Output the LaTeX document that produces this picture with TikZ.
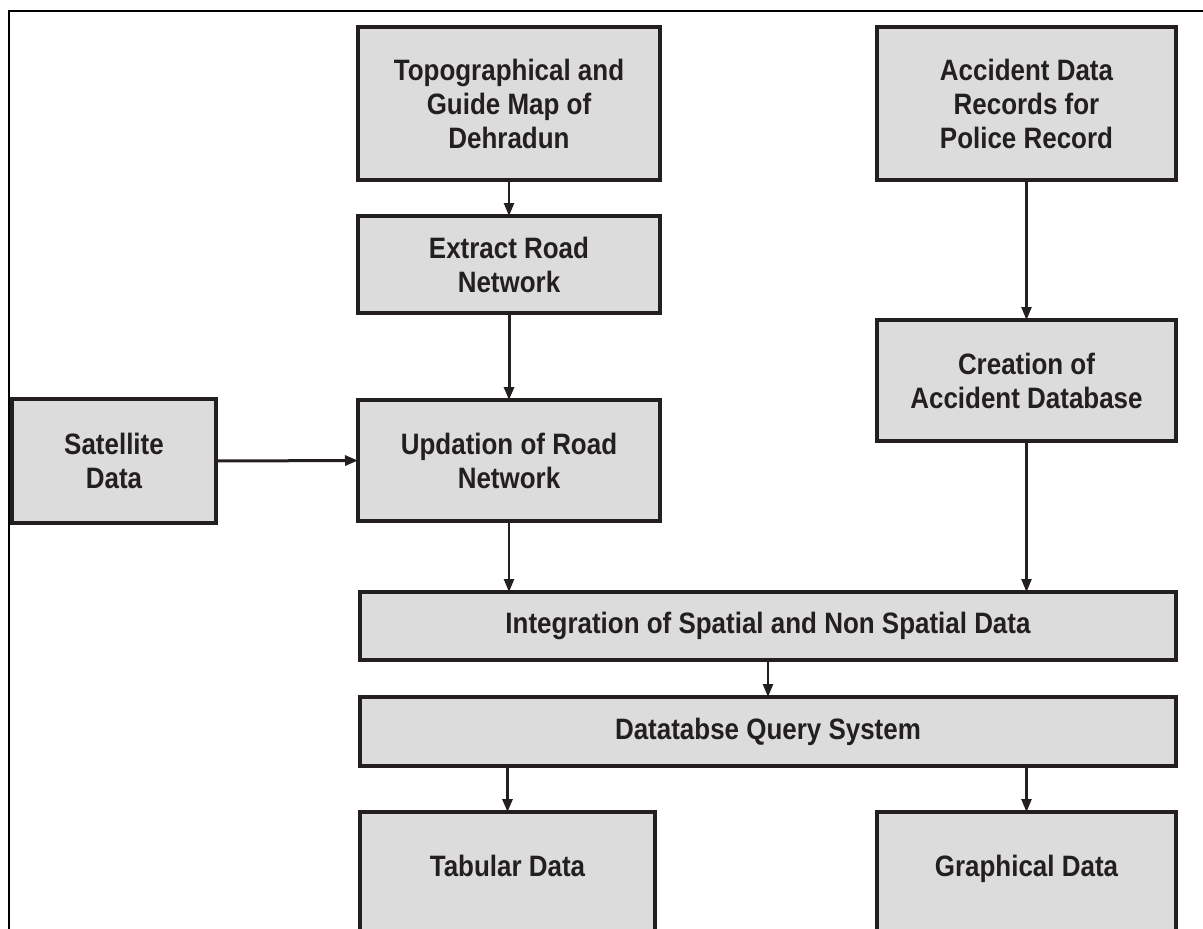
\documentclass[tikz,border=0pt]{standalone}
\usepackage{fontspec}
\newfontfamily\boxfont{Liberation Sans}[FakeStretch=0.88]
\usetikzlibrary{arrows.meta,calc}
\definecolor{ink}{HTML}{231F20}
\definecolor{boxgray}{HTML}{DCDCDD}
\tikzset{
  flowbox/.style={draw=ink, fill=boxgray, line width=3.5pt, align=center,
    inner sep=0pt, outer sep=0pt, text=ink,
    font=\boxfont\bfseries\fontsize{29.5}{34}\selectfont},
  flowarrow/.style={draw=ink, line width=2.4pt,
    -{Triangle[length=13pt,width=10pt]}},
}
\begin{document}
\begin{tikzpicture}[x=1pt,y=-1pt]
\useasboundingbox (0,0) rectangle (1203,929);
\clip (0,0) rectangle (1203,929);
\fill[white] (0,0) rectangle (1203,929);
% frame
\draw[black, line width=2.5pt] (9,960) -- (9,11) -- (1210,11);
% boxes
\node[flowbox, minimum width=302pt, minimum height=153pt] (topo) at (509,103.5)
  {Topographical and\\Guide Map of\\Dehradun};
\node[flowbox, minimum width=299pt, minimum height=153pt] (acc) at (1026.5,103.5)
  {Accident Data\\Records for\\Police Record};
\node[flowbox, minimum width=302pt, minimum height=97pt] (ext) at (509,264.5)
  {Extract Road\\Network};
\node[flowbox, minimum width=299pt, minimum height=121pt] (cre) at (1026.5,380.5)
  {Creation of\\Accident Database};
\node[flowbox, minimum width=204pt, minimum height=124pt] (sat) at (114,461)
  {Satellite\\Data};
\node[flowbox, minimum width=302pt, minimum height=121pt] (upd) at (509,460.5)
  {Updation of Road\\Network};
\node[flowbox, minimum width=816pt, minimum height=68pt] (int) at (768,626)
  {Integration of Spatial and Non Spatial Data};
\node[flowbox, minimum width=816pt, minimum height=69pt] (db) at (768,731.5)
  {Datatabse Query System};
\node[flowbox, minimum width=295pt, minimum height=150pt, anchor=north] (tab) at (507.5,812)
  {\raisebox{11pt}[0pt][0pt]{Tabular Data}};
\node[flowbox, minimum width=299pt, minimum height=150pt, anchor=north] (gra) at (1026.5,812)
  {\raisebox{11pt}[0pt][0pt]{Graphical Data}};
% connectors
\draw[flowarrow] (topo.south) -- (ext.north);
\draw[flowarrow, line width=3pt] (ext.south) -- (upd.north);
\draw[flowarrow] (acc.south) -- (cre.north);
\draw[flowarrow, line width=3pt] (sat.east) -- (upd.west);
\draw[flowarrow] (upd.south) -- (upd.south |- int.north);
\draw[flowarrow] (cre.south) -- (cre.south |- int.north);
\draw[flowarrow] (int.south) -- (db.north);
\draw[flowarrow, line width=3pt] (tab.north |- db.south) -- (tab.north);
\draw[flowarrow] (gra.north |- db.south) -- (gra.north);
\end{tikzpicture}
\end{document}
